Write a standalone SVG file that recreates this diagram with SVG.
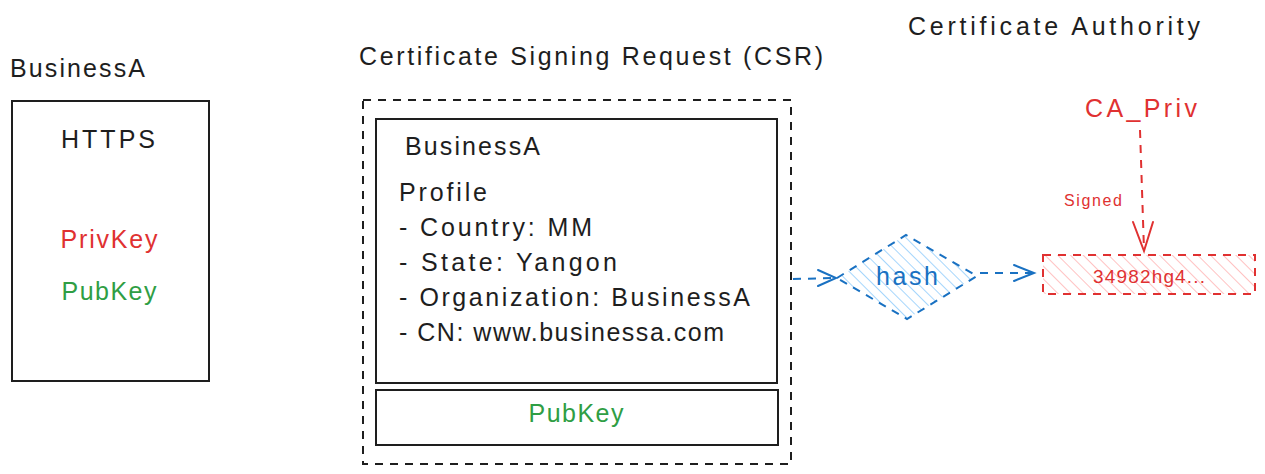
<svg xmlns="http://www.w3.org/2000/svg" width="1265" height="474" viewBox="0 0 1265 474">
<style>
text{font-family:"Liberation Sans","DejaVu Sans",sans-serif;}
.t{font-size:25px;fill:#1e1e1e;}
.red{fill:#e03131;}
.green{fill:#2f9e44;}
.blue{fill:#1971c2;}
.box{fill:none;stroke:#1e1e1e;stroke-width:2;}
.dash{fill:none;stroke:#1e1e1e;stroke-width:2;stroke-dasharray:8 7;}
.bl{fill:none;stroke:#1971c2;stroke-width:2;stroke-dasharray:8 7;}
.rd{fill:none;stroke:#e03131;stroke-width:2;stroke-dasharray:8 7;}
</style>
<defs>
<pattern id="hb" patternUnits="userSpaceOnUse" width="8" height="8" patternTransform="rotate(-45)">
<line x1="0" y1="0" x2="0" y2="8" stroke="#8fccfb" stroke-width="1.6"/>
</pattern>
<pattern id="hr" patternUnits="userSpaceOnUse" width="9" height="9" patternTransform="rotate(-45)">
<line x1="0" y1="0" x2="0" y2="9" stroke="#ffb3b3" stroke-width="1.6"/>
</pattern>
</defs>
<rect width="1265" height="474" fill="#ffffff"/>

<g id="businessA">
<text class="t" x="10" y="77" textLength="135">BusinessA</text>
<rect class="box" x="12" y="101" width="197" height="280"/>
<text class="t" x="108" y="148" text-anchor="middle" textLength="94">HTTPS</text>
<text class="t red" x="109" y="248" text-anchor="middle" textLength="97">PrivKey</text>
<text class="t green" x="109" y="300" text-anchor="middle" textLength="95">PubKey</text>
</g>

<g id="csr">
<text class="t" x="359" y="65" textLength="464">Certificate Signing Request (CSR)</text>
<rect class="dash" x="363" y="100" width="428" height="364"/>
</g>

<g id="profile">
<rect class="box" x="376" y="119" width="401" height="264"/>
<text class="t" x="405" y="155" textLength="135">BusinessA</text>
<text class="t" x="399" y="201" textLength="88">Profile</text>
<text class="t" x="399" y="236" textLength="193">- Country: MM</text>
<text class="t" x="399" y="271" textLength="218">- State: Yangon</text>
<text class="t" x="399" y="306" textLength="351">- Organization: BusinessA</text>
<text class="t" x="399" y="341" textLength="325">- CN: www.businessa.com</text>
</g>

<g id="pubkey">
<rect class="box" x="376" y="390" width="402" height="55"/>
<text class="t green" x="576" y="422" text-anchor="middle" textLength="95">PubKey</text>
</g>

<g id="hash">
<polygon points="837,278 906,235 977,276 907,319" fill="url(#hb)"/>
<polygon class="bl" points="837,278 906,235 977,276 907,319"/>
<text class="t blue" x="907" y="285" text-anchor="middle" textLength="62">hash</text>
</g>

<g id="ca">
<text class="t" x="908" y="35" textLength="292">Certificate Authority</text>
<text class="t red" x="1141" y="117" text-anchor="middle" textLength="112">CA_Priv</text>
</g>

<g id="signature">
<rect x="1043" y="255" width="212" height="39" fill="url(#hr)"/>
<rect class="rd" x="1043" y="255" width="212" height="39"/>
<text class="red" x="1149" y="283" text-anchor="middle" font-size="19" textLength="112">34982hg4...</text>
</g>

<g id="connectors">
<path class="bl" d="M793,279 L834,278"/>
<path d="M818,270 L836,278 L818,286" fill="none" stroke="#1971c2" stroke-width="2" stroke-linecap="round"/>
<path class="bl" d="M980,273 L1034,273"/>
<path d="M1014,265 L1034,273 L1014,281" fill="none" stroke="#1971c2" stroke-width="2" stroke-linecap="round"/>
<path class="rd" d="M1140,130 L1144,250"/>
<path d="M1133,222 L1144,251 L1153,222" fill="none" stroke="#e03131" stroke-width="2" stroke-linecap="round"/>
<text class="red" x="1064" y="206" font-size="16" textLength="58">Signed</text>
</g>
</svg>
